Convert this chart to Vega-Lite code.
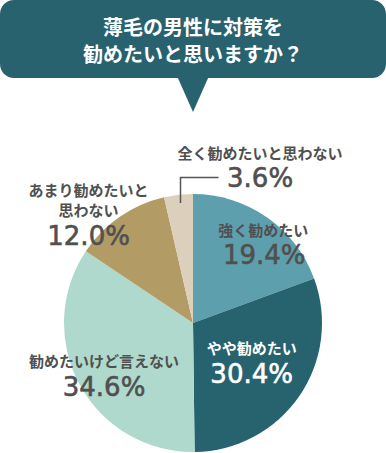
{
  "$schema": "https://vega.github.io/schema/vega-lite/v6.json",
  "padding": 0,
  "background": "white",
  "spacing": 116,
  "bounds": "flush",
  "config": {"view": {"stroke": null}},
  "vconcat": [
    {
      "width": 386,
      "height": 78,
      "view": {"fill": "#29626f", "stroke": null, "cornerRadius": 14},
      "data": {"values": [{"question": "薄毛の男性に対策を\n勧めたいと思いますか？"}]},
      "layer": [
        {
          "mark": {"type": "point", "shape": "M-16,37L16,37L0,73Z", "size": 4, "filled": true, "color": "#29626f", "opacity": 1, "strokeWidth": 0},
          "encoding": {}
        },
        {
          "mark": {"type": "text", "color": "white", "font": "Noto Sans CJK JP", "fontWeight": "bold", "fontSize": 20, "lineBreak": "\n", "lineHeight": 27, "baseline": "middle", "align": "center", "dy": -10},
          "encoding": {"text": {"field": "question"}}
        }
      ]
    },
    {
      "width": 386,
      "height": 258,
      "data": {"values": [
        {"rank": 1, "answer": "強く勧めたい", "share": 0.194},
        {"rank": 2, "answer": "やや勧めたい", "share": 0.304},
        {"rank": 3, "answer": "勧めたいけど言えない", "share": 0.346},
        {"rank": 4, "answer": "あまり勧めたいと\n思わない", "share": 0.120},
        {"rank": 5, "answer": "全く勧めたいと思わない", "share": 0.036}
      ]},
      "layer": [
        {
          "mark": {"type": "arc", "outerRadius": 129},
          "encoding": {
            "theta": {"field": "share", "type": "quantitative", "stack": true},
            "order": {"field": "rank", "type": "quantitative"},
            "color": {"field": "answer", "type": "nominal", "legend": null,
              "scale": {"domain": ["強く勧めたい", "やや勧めたい", "勧めたいけど言えない", "あまり勧めたいと\n思わない", "全く勧めたいと思わない"],
                        "range": ["#5e9fae", "#27636f", "#afd9cc", "#b39b66", "#dccfbc"]}}
          }
        },
        {
          "transform": [{"filter": "datum.rank === 5"}],
          "mark": {"type": "point", "shape": "M-12.5,-120L-12.5,-145.5L25.5,-145.5", "size": 4, "filled": false, "stroke": "#555555", "strokeWidth": 1.5, "opacity": 1, "fill": "transparent"},
          "encoding": {}
        },
        {
          "mark": {"type": "text", "radius": 100, "dx": 13, "dy": -10, "font": "Noto Sans CJK JP", "fontWeight": "bold", "fontSize": 15, "color": "#505050", "lineBreak": "\n", "lineHeight": 20},
          "encoding": {"theta": {"field": "share", "type": "quantitative", "stack": true}, "order": {"field": "rank", "type": "quantitative"},
            "text": {"condition": {"test": "datum.rank === 1", "field": "answer"}, "value": ""}}
        },
        {
          "mark": {"type": "text", "radius": 100, "dx": 14, "dy": 15, "font": "DejaVu Sans", "fontSize": 26, "color": "#505050", "stroke": "#505050", "strokeWidth": 0.6},
          "encoding": {"theta": {"field": "share", "type": "quantitative", "stack": true}, "order": {"field": "rank", "type": "quantitative"},
            "text": {"condition": {"test": "datum.rank === 1", "field": "share", "type": "quantitative", "format": ".1%"}, "value": ""}}
        },
        {
          "mark": {"type": "text", "radius": 70, "dx": 1, "dy": -14, "font": "Noto Sans CJK JP", "fontWeight": "bold", "fontSize": 15, "color": "white", "lineBreak": "\n", "lineHeight": 20},
          "encoding": {"theta": {"field": "share", "type": "quantitative", "stack": true}, "order": {"field": "rank", "type": "quantitative"},
            "text": {"condition": {"test": "datum.rank === 2", "field": "answer"}, "value": ""}}
        },
        {
          "mark": {"type": "text", "radius": 70, "dx": 1, "dy": 12, "font": "DejaVu Sans", "fontSize": 26, "color": "white", "stroke": "white", "strokeWidth": 0.6},
          "encoding": {"theta": {"field": "share", "type": "quantitative", "stack": true}, "order": {"field": "rank", "type": "quantitative"},
            "text": {"condition": {"test": "datum.rank === 2", "field": "share", "type": "quantitative", "format": ".1%"}, "value": ""}}
        },
        {
          "mark": {"type": "text", "radius": 100, "dx": -1, "dy": -9, "font": "Noto Sans CJK JP", "fontWeight": "bold", "fontSize": 15, "color": "#505050", "lineBreak": "\n", "lineHeight": 20},
          "encoding": {"theta": {"field": "share", "type": "quantitative", "stack": true}, "order": {"field": "rank", "type": "quantitative"},
            "text": {"condition": {"test": "datum.rank === 3", "field": "answer"}, "value": ""}}
        },
        {
          "mark": {"type": "text", "radius": 100, "dx": -1, "dy": 17, "font": "DejaVu Sans", "fontSize": 26, "color": "#505050", "stroke": "#505050", "strokeWidth": 0.6},
          "encoding": {"theta": {"field": "share", "type": "quantitative", "stack": true}, "order": {"field": "rank", "type": "quantitative"},
            "text": {"condition": {"test": "datum.rank === 3", "field": "share", "type": "quantitative", "format": ".1%"}, "value": ""}}
        },
        {
          "mark": {"type": "text", "radius": 140, "dx": -25, "dy": -17, "font": "Noto Sans CJK JP", "fontWeight": "bold", "fontSize": 15, "color": "#505050", "lineBreak": "\n", "lineHeight": 20},
          "encoding": {"theta": {"field": "share", "type": "quantitative", "stack": true}, "order": {"field": "rank", "type": "quantitative"},
            "text": {"condition": {"test": "datum.rank === 4", "field": "answer"}, "value": ""}}
        },
        {
          "mark": {"type": "text", "radius": 140, "dx": -25, "dy": 29, "font": "DejaVu Sans", "fontSize": 26, "color": "#505050", "stroke": "#505050", "strokeWidth": 0.6},
          "encoding": {"theta": {"field": "share", "type": "quantitative", "stack": true}, "order": {"field": "rank", "type": "quantitative"},
            "text": {"condition": {"test": "datum.rank === 4", "field": "share", "type": "quantitative", "format": ".1%"}, "value": ""}}
        },
        {
          "mark": {"type": "text", "radius": 150, "dx": 84, "dy": -20, "font": "Noto Sans CJK JP", "fontWeight": "bold", "fontSize": 15, "color": "#505050", "lineBreak": "\n", "lineHeight": 20},
          "encoding": {"theta": {"field": "share", "type": "quantitative", "stack": true}, "order": {"field": "rank", "type": "quantitative"},
            "text": {"condition": {"test": "datum.rank === 5", "field": "answer"}, "value": ""}}
        },
        {
          "mark": {"type": "text", "radius": 150, "dx": 84, "dy": 5, "font": "DejaVu Sans", "fontSize": 26, "color": "#505050", "stroke": "#505050", "strokeWidth": 0.6},
          "encoding": {"theta": {"field": "share", "type": "quantitative", "stack": true}, "order": {"field": "rank", "type": "quantitative"},
            "text": {"condition": {"test": "datum.rank === 5", "field": "share", "type": "quantitative", "format": ".1%"}, "value": ""}}
        }
      ]
    }
  ]
}
